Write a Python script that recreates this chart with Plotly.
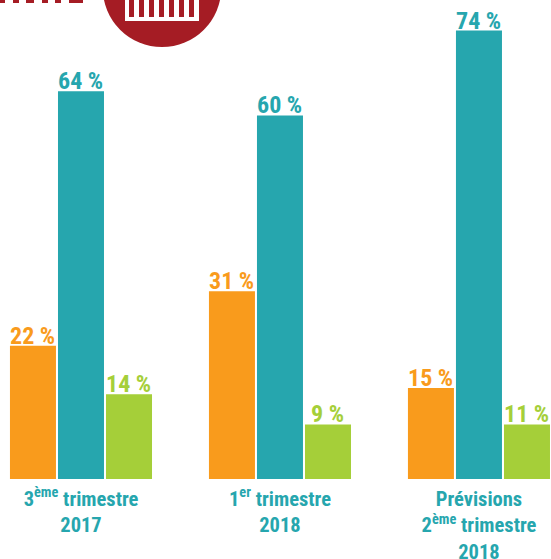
import plotly.graph_objects as go

categories = ["3<sup>ème</sup> trimestre<br>2017", "1<sup>er</sup> trimestre<br>2018", "Prévisions<br>2<sup>ème</sup> trimestre<br>2018"]
orange_values = [22, 31, 15]
teal_values = [64, 60, 74]
green_values = [14, 9, 9]
orange_labels = ["22 %", "31 %", "15 %"]
teal_labels = ["64 %", "60 %", "74 %"]
green_labels = ["14 %", "9 %", "11 %"]

FONT = "Roboto Condensed"
ORANGE = "#F99B1C"
TEAL = "#26A6AE"
GREEN = "#A5CF39"
RED = "#A51C24"

fig = go.Figure()
for vals, labs, col, shift in [(orange_values, orange_labels, ORANGE, -48),
                               (teal_values, teal_labels, TEAL, 0),
                               (green_values, green_labels, GREEN, 48)]:
    fig.add_bar(x=categories, y=vals, marker=dict(color=col, line=dict(width=0)), showlegend=False, hoverinfo="skip")
    for c, v, t in zip(categories, vals, labs):
        fig.add_annotation(x=c, y=v, text=t, showarrow=False, xshift=shift, yanchor="bottom", yshift=-6,
                           font=dict(family=FONT, size=24, color=col, weight="bold"))

W, H, PLOT_H = 551, 559, 479

def rect(x0, y0, x1, y1, color):
    return dict(type="rect", xref="paper", yref="paper", x0=x0/W, x1=x1/W, y0=1-y1/PLOT_H, y1=1-y0/PLOT_H,
                fillcolor=color, line=dict(width=0), layer="above")

shapes = [dict(type="circle", xref="paper", yref="paper", x0=(162-59.3)/W, x1=(162+59.3)/W,
               y0=1-47/PLOT_H, y1=1+71.6/PLOT_H, fillcolor=RED, line=dict(width=0), layer="above"),
          rect(125, -5, 199, 21, "white")]
for sx in [129, 139, 149, 159, 169, 179, 189]:
    shapes.append(rect(sx, -5, sx+5, 17, RED))
for a, b in [(0, 5), (13, 19), (26, 34), (42, 48), (55, 61), (69, 83)]:
    shapes.append(rect(a, -2, b, 3, RED))

fig.update_layout(
    width=W, height=H, margin=dict(l=0, r=0, t=0, b=80), autosize=False,
    paper_bgcolor="white", plot_bgcolor="white", barmode="group", bargap=0.276, bargroupgap=0.042,
    shapes=shapes,
    xaxis=dict(range=[-0.407, 2.362], showgrid=False, zeroline=False, showline=False, ticks="", tickangle=0,
               ticklabelstandoff=5,
               tickfont=dict(family=FONT, size=20.5, color=TEAL, weight="bold"), automargin=False),
    yaxis=dict(range=[0, 79.04], visible=False, showgrid=False, zeroline=False),
)
fig.write_html("out.html", config=dict(displayModeBar=False),
               post_script="document.body.style.margin='0';document.documentElement.style.overflow='hidden';")
